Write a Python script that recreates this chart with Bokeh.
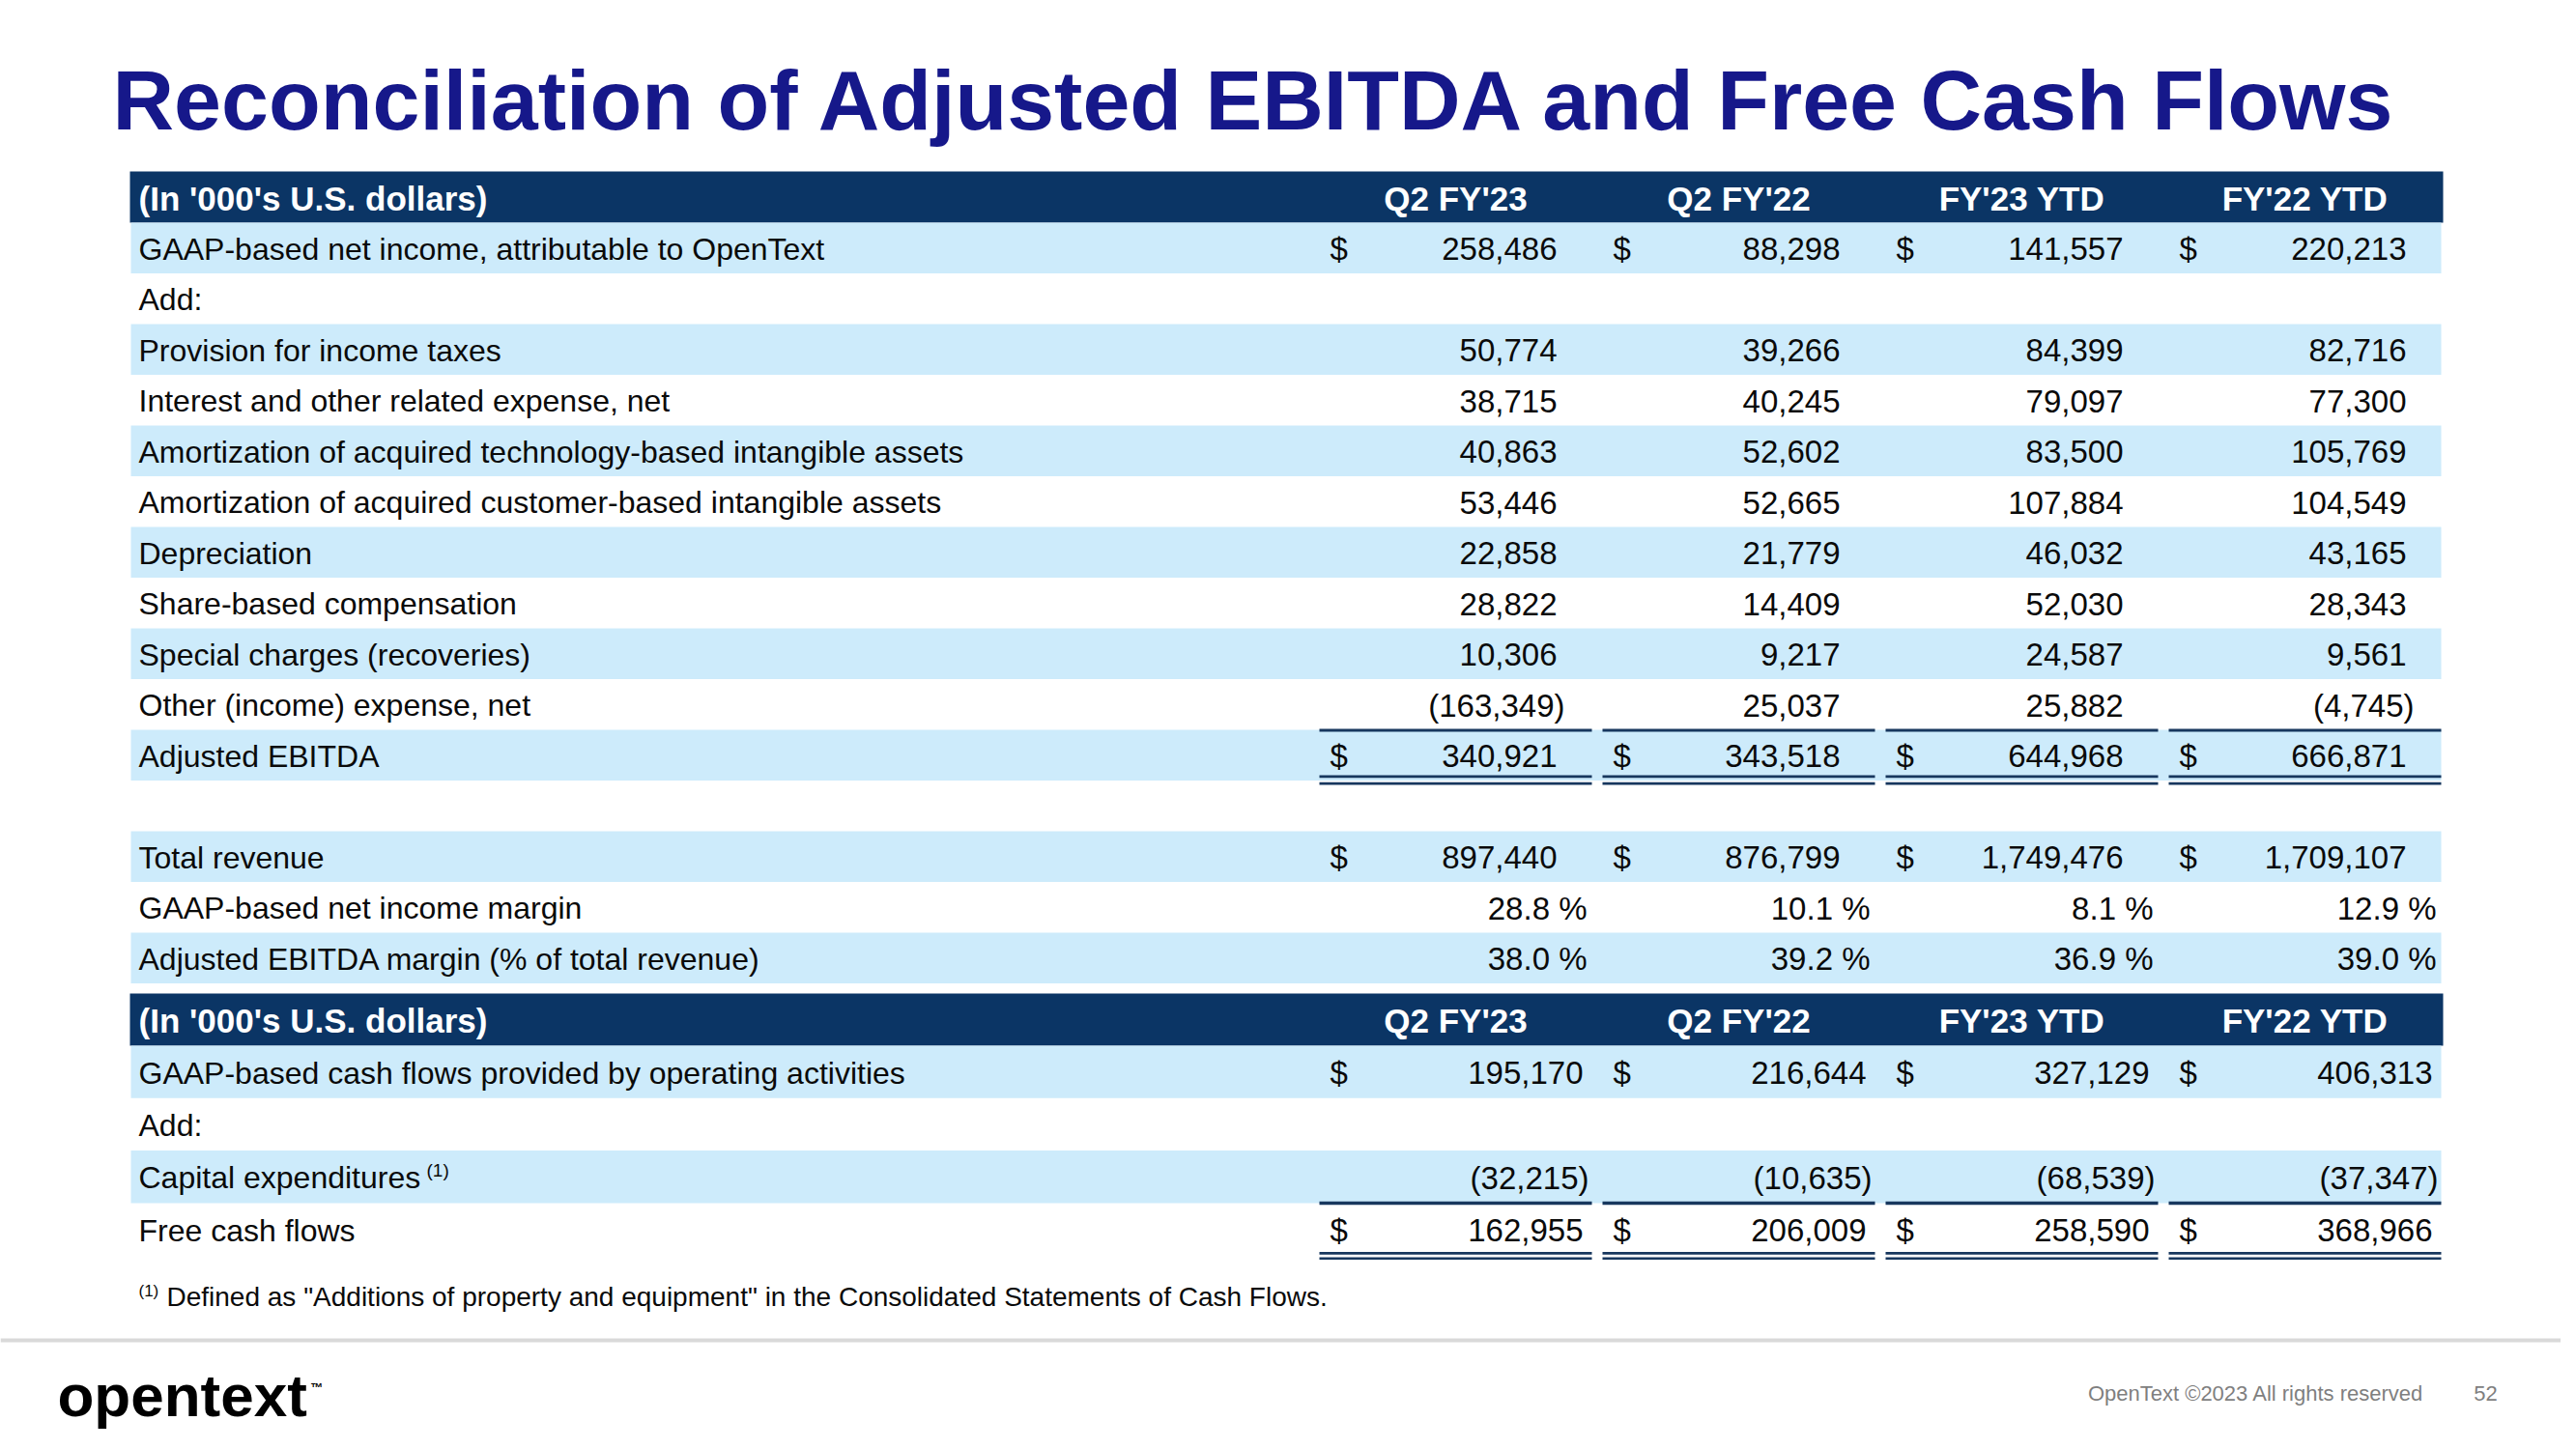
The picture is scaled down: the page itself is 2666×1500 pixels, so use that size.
from bokeh.plotting import figure
from bokeh.models import Range1d
from bokeh.core.properties import value
from bokeh.embed import file_html
from bokeh.resources import INLINE

# ---------------- data ----------------
title_text = "Reconciliation of Adjusted EBITDA and Free Cash Flows"
unit_label = "(In '000's U.S. dollars)"
periods = ["Q2 FY'23", "Q2 FY'22", "FY'23 YTD", "FY'22 YTD"]

ebitda_labels = [
    "GAAP-based net income, attributable to OpenText",
    "Add:",
    "Provision for income taxes",
    "Interest and other related expense, net",
    "Amortization of acquired technology-based intangible assets",
    "Amortization of acquired customer-based intangible assets",
    "Depreciation",
    "Share-based compensation",
    "Special charges (recoveries)",
    "Other (income) expense, net",
    "Adjusted EBITDA",
    "",
    "Total revenue",
    "GAAP-based net income margin",
    "Adjusted EBITDA margin (% of total revenue)",
]
ebitda_q2fy23 = [258486, None, 50774, 38715, 40863, 53446, 22858, 28822, 10306, -163349, 340921, None, 897440, 28.8, 38.0]
ebitda_q2fy22 = [88298, None, 39266, 40245, 52602, 52665, 21779, 14409, 9217, 25037, 343518, None, 876799, 10.1, 39.2]
ebitda_fy23ytd = [141557, None, 84399, 79097, 83500, 107884, 46032, 52030, 24587, 25882, 644968, None, 1749476, 8.1, 36.9]
ebitda_fy22ytd = [220213, None, 82716, 77300, 105769, 104549, 43165, 28343, 9561, -4745, 666871, None, 1709107, 12.9, 39.0]
ebitda_dollar_rows = ["GAAP-based net income, attributable to OpenText", "Adjusted EBITDA", "Total revenue"]
ebitda_pct_rows = ["GAAP-based net income margin", "Adjusted EBITDA margin (% of total revenue)"]

fcf_labels = [
    "GAAP-based cash flows provided by operating activities",
    "Add:",
    "Capital expenditures",
    "Free cash flows",
]
fcf_q2fy23 = [195170, None, -32215, 162955]
fcf_q2fy22 = [216644, None, -10635, 206009]
fcf_fy23ytd = [327129, None, -68539, 258590]
fcf_fy22ytd = [406313, None, -37347, 368966]
fcf_dollar_rows = ["GAAP-based cash flows provided by operating activities", "Free cash flows"]

footnote_text = 'Defined as "Additions of property and equipment"  in the Consolidated  Statements  of Cash Flows.'
footer_text = "OpenText \u00a92023 All rights reserved"
page_number = "52"
logo_text = "opentext"

# ---------------- style / layout ----------------
FONT = value("Liberation Sans")
NAVY = "#0B3565"
LIGHT = "#CDEBFB"
RULE = "#17375E"
TITLE_BLUE = "#16188A"
TEXT = "#0a0a0a"

TBL_L, TBL_R = 134, 2527
LABEL_X = 143
COL_L = [1365, 1658, 1951, 2244]
COL_R = [c + 282 for c in COL_L]

p = figure(width=2650, height=1484, x_range=Range1d(0, 2650), y_range=Range1d(1484, 0),
           output_backend="svg", toolbar_location=None, min_border=0,
           x_axis_type=None, y_axis_type=None)
p.grid.visible = False
p.outline_line_color = None
p.background_fill_color = "white"
p.border_fill_color = "white"


def fmt(v, pct):
    if v is None:
        return ""
    if pct:
        return f"{v:.1f} %"
    if v < 0:
        return f"({-v:,})"
    return f"{v:,}"


def draw_table(labels, cols, dollar_rows, pct_rows, head_top, head_bot, pitch,
               pos_off, neg_off, pct_off, total_row, sum_lines):
    n = len(labels)
    p.quad(left=[TBL_L], right=[TBL_R + 1], top=[head_top], bottom=[head_bot],
           fill_color=NAVY, line_color=None)
    hc = (head_top + head_bot) / 2 + 1
    p.text(x=[LABEL_X], y=[hc], text=[unit_label], text_font=FONT, text_font_size=value("35px"),
           text_font_style="bold", text_color="white", text_baseline="middle", text_align="left")
    p.text(x=[(l + r) / 2 for l, r in zip(COL_L, COL_R)], y=[hc] * 4, text=periods, text_font=FONT,
           text_font_size=value("35px"), text_font_style="bold", text_color="white",
           text_baseline="middle", text_align="center")
    tops = [head_bot + pitch * i for i in range(n)]
    centers = [t + pitch / 2 + 1 for t in tops]
    shaded = [i for i in range(n) if i % 2 == 0 and labels[i] != ""]
    p.quad(left=[TBL_L + 1] * len(shaded), right=[TBL_R - 1] * len(shaded),
           top=[tops[i] for i in shaded], bottom=[tops[i] + pitch for i in shaded],
           fill_color=LIGHT, line_color=None)
    p.text(x=[LABEL_X] * n, y=centers, text=labels, text_font=FONT, text_font_size=value("32px"),
           text_color=TEXT, text_baseline="middle", text_align="left")
    xs, ys, ts = [], [], []
    dx, dy = [], []
    for j, col in enumerate(cols):
        for i, v in enumerate(col):
            if v is None:
                continue
            pct = labels[i] in pct_rows
            ts.append(fmt(v, pct))
            ys.append(centers[i])
            if pct:
                xs.append(COL_R[j] - pct_off)
            elif v < 0:
                xs.append(COL_R[j] - neg_off)
            else:
                xs.append(COL_R[j] - pos_off)
            if labels[i] in dollar_rows:
                dx.append(COL_L[j] + 11)
                dy.append(centers[i])
    p.text(x=xs, y=ys, text=ts, text_font=FONT, text_font_size=value("33px"), text_color=TEXT,
           text_baseline="middle", text_align="right")
    p.text(x=dx, y=dy, text=["$"] * len(dx), text_font=FONT, text_font_size=value("33px"),
           text_color=TEXT, text_baseline="middle", text_align="left")
    t = tops[total_row]
    x0s, x1s, yv, wv = [], [], [], []
    for off, w in sum_lines:
        for j in range(4):
            x0s.append(COL_L[j]); x1s.append(COL_R[j]); yv.append(t + off); wv.append(w)
    p.segment(x0=x0s, x1=x1s, y0=yv, y1=yv, line_color=RULE, line_width=wv)
    return tops, centers


# Title
p.text(x=[116], y=[103], text=[title_text], text_font=FONT, text_font_size=value("88px"),
       text_font_style="bold", text_color=TITLE_BLUE, text_baseline="middle", text_align="left")

draw_table(ebitda_labels, [ebitda_q2fy23, ebitda_q2fy22, ebitda_fy23ytd, ebitda_fy22ytd],
           ebitda_dollar_rows, ebitda_pct_rows, 177, 230, 52.5,
           36, 28, 5, 10, [(0.5, 2.8), (48.3, 2.8), (55.7, 2.8)])

tops2, centers2 = draw_table(fcf_labels, [fcf_q2fy23, fcf_q2fy22, fcf_fy23ytd, fcf_fy22ytd],
                             fcf_dollar_rows, [], 1028, 1082, 54.3,
                             9, 3, 5, 3, [(0.0, 3.5), (52.0, 2.6), (57.3, 2.6)])

# superscript on capital expenditures
p.text(x=[441], y=[centers2[2] - 8], text=["(1)"], text_font=FONT, text_font_size=value("19px"),
       text_color=TEXT, text_baseline="middle", text_align="left")

# footnote
p.text(x=[143], y=[1336], text=["(1)"], text_font=FONT, text_font_size=value("17px"),
       text_color=TEXT, text_baseline="middle", text_align="left")
p.text(x=[172], y=[1342], text=[footnote_text], text_font=FONT, text_font_size=value("28px"),
       text_color=TEXT, text_baseline="middle", text_align="left")

# footer rule
p.segment(x0=[0], x1=[2650], y0=[1387], y1=[1387], line_color="#D9D9D9", line_width=4)

# logo
p.text(x=[59], y=[1444], text=[logo_text], text_font=FONT, text_font_size=value("62px"),
       text_font_style="bold", text_color="black", text_baseline="middle", text_align="left")
p.text(x=[321], y=[1428], text=["\u2122"], text_font=FONT, text_font_size=value("13px"),
       text_font_style="bold", text_color="black", text_baseline="top", text_align="left")

# footer text
p.text(x=[2508], y=[1442], text=[footer_text], text_font=FONT, text_font_size=value("22px"),
       text_color="#7f7f7f", text_baseline="middle", text_align="right")
p.text(x=[2572], y=[1442], text=[page_number], text_font=FONT, text_font_size=value("22px"),
       text_color="#7f7f7f", text_baseline="middle", text_align="center")

open("out.html", "w").write(file_html(p, INLINE))
